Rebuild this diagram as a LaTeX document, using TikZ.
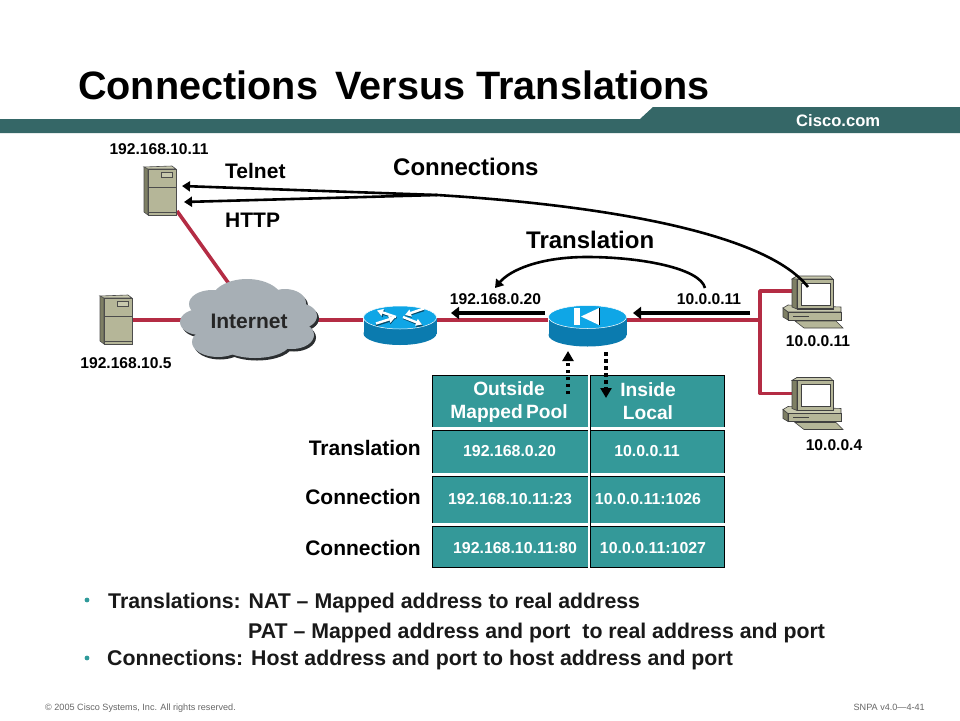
\documentclass[tikz,border=0pt]{standalone}
\usepackage{fontspec}
\setmainfont{Liberation Sans}
\usetikzlibrary{arrows.meta}
\definecolor{bannerteal}{HTML}{356767}
\definecolor{cellteal}{HTML}{349999}
\definecolor{linkred}{HTML}{B42C44}
\definecolor{boxface}{HTML}{B5B698}
\definecolor{boxside}{HTML}{7E7F64}
\definecolor{boxtop}{HTML}{C8C9AE}
\definecolor{cloudgray}{HTML}{A7AFB5}
\definecolor{cloudshade}{HTML}{2B2E30}
\definecolor{rtop}{HTML}{0FA6E6}
\definecolor{rside}{HTML}{0B7BAF}
\definecolor{bulletteal}{HTML}{2F9A9A}
\tikzset{
  x=1pt,y=-1pt,
  anchorbox/.style={inner sep=0pt,outer sep=0pt,minimum width=#1},
  redlink/.style={draw=linkred,line width=3.6pt,line join=round},
  blackarrow/.style={draw=black,line width=3.4pt,-{Triangle[length=8pt,width=12pt]}},
  thinarrow/.style={draw=black,line width=2.6pt,-{Triangle[length=8pt,width=10pt]}},
  dotarrow/.style={draw=black,line width=3.8pt,dash pattern=on 3.5pt off 3.5pt,-{Triangle[length=10pt,width=11pt]}},
  routerarrow/.style={line width=2.4pt,-{Triangle[length=6pt,width=7pt]}},
  lab/.style={inner sep=0pt,font=\bfseries\fontsize{15.6}{18}\selectfont,text=black},
  biglab/.style={inner sep=0pt,font=\bfseries\fontsize{24}{28}\selectfont,text=black,anchor=base west},
  midlab/.style={inner sep=0pt,font=\bfseries\fontsize{21}{25}\selectfont,text=black,anchor=base west},
  rowlab/.style={inner sep=0pt,font=\bfseries\fontsize{21}{25}\selectfont,text=black,anchor=base east},
  cell/.style={inner sep=0pt,font=\bfseries\fontsize{15.9}{18}\selectfont,text=white},
  head/.style={inner sep=0pt,align=center,font=\bfseries\fontsize{19.2}{23}\selectfont,text=white},
  body/.style={inner sep=0pt,anchor=base west,font=\bfseries\fontsize{21.3}{24}\selectfont,text=black!90},
  foot/.style={inner sep=0pt,font=\fontsize{9.1}{11}\selectfont,text=black!60},
}
\newcommand{\serverart}[2]{%
 \begin{scope}[shift={(#1,#2)},draw=black!70,line width=.6pt]
  \filldraw[fill=boxside] (0,1)--(4,3)--(4,49)--(0,46)--cycle;
  \filldraw[fill=boxtop] (0,1)--(28,0)--(32,3)--(4,3)--cycle;
  \filldraw[fill=boxface] (4,3) rectangle (32,49);
  \draw (4,21)--(32,21);
  \draw (4,46)--(32,46);
  \filldraw[fill=boxtop] (17,6) rectangle (28,11);
 \end{scope}}
\newcommand{\pcart}[2]{%
 \begin{scope}[shift={(#1,#2)},draw=black!75,line width=.6pt]
  \filldraw[fill=boxside] (-9,32)--(-4,36)--(-4,44)--(-9,41)--cycle;
  \filldraw[fill=boxtop] (-9,32)--(-4,29)--(49,31)--(49,36)--(-4,36)--cycle;
  \filldraw[fill=boxface] (-4,36) rectangle (49,44);
  \draw[line width=1pt] (1,40)--(17,40);
  \filldraw[fill=boxface] (3,45)--(44,45)--(51,52)--(12,52)--cycle;
  \filldraw[fill=boxside] (0,3)--(5,0)--(5,33)--(0,31)--cycle;
  \filldraw[fill=boxtop] (0,3)--(5,0)--(38,0)--(41,3)--cycle;
  \filldraw[fill=boxface] (5,3) rectangle (41,33);
  \filldraw[fill=white] (9,7) rectangle (38,29);
  \draw[line width=1.4pt] (5,33)--(41,33);
 \end{scope}}
\newcommand{\routerart}[4]{% x-centre, top-ellipse centre y, rx, body height
 \fill[rside] (#1,#2+#4) ellipse[x radius=#3,y radius=11.5];
 \fill[rside] (#1-#3,#2) rectangle (#1+#3,#2+#4);
 \fill[rtop,draw=white,line width=.5pt] (#1,#2) ellipse[x radius=#3,y radius=11.5];
}
\newcommand{\cloudlobes}{248/320/58/30,247/301/36/22,212/304/23/14,285/303/21/14,298/316/19/13,200/322/20/13,218/342/26/15,255/342/36/16,292/335/22/14}
\begin{document}
\begin{tikzpicture}
\useasboundingbox (0,0) rectangle (960,720);
\fill[white] (0,0) rectangle (960,720);

% banner
\fill[bannerteal] (0,119)--(640,119)--(653,107)--(960,107)--(960,133)--(0,133)--cycle;
\node[inner sep=0pt,anchor=base west,font=\bfseries\fontsize{16.6}{20}\selectfont,text=white] (cisco) at (796,126) {Cisco.com};
\node[inner sep=0pt,anchor=base west,font=\bfseries\fontsize{39.6}{44}\selectfont] (title) at (78,99) {Connections\, Versus Translations};

% anchor nodes
\node[anchorbox=32pt,minimum height=49pt] (srvA) at (161,191) {};
\node[anchorbox=32pt,minimum height=49pt] (srvB) at (116,320) {};
\node[anchorbox=136pt,minimum height=80pt] (cloud) at (248.5,320) {};
\node[anchorbox=74pt,minimum height=30pt] (router) at (400,320) {};
\node[anchorbox=79pt,minimum height=30pt] (pix) at (587.5,320) {};
\node[anchorbox=10pt,minimum height=30pt] (pcA) at (797,291) {};
\node[anchorbox=10pt,minimum height=30pt] (pcB) at (797,393.5) {};
\coordinate (jn) at (760,320);
\coordinate (jt) at (760,291);
\coordinate (jb) at (760,393.5);
\coordinate (cloudtop) at (232,288);
\coordinate (srvfoot) at (177,211);

% red links
\draw[redlink] (srvB.east) -- (cloud.west);
\draw[redlink] (srvfoot) -- (cloudtop);
\draw[redlink] (cloud.east) -- (router.west);
\draw[redlink] (router.east) -- (pix.west);
\draw[redlink] (pix.east) -- (jn);
\draw[redlink] (pcA.west) -- (jt) -- (jb) -- (pcB.west);

% cloud
\foreach \cx/\cy/\rx/\ry in \cloudlobes {\fill[cloudshade] (\cx+2,\cy+2.5) ellipse[x radius=\rx,y radius=\ry];}
\foreach \cx/\cy/\rx/\ry in \cloudlobes {\fill[cloudgray] (\cx,\cy) ellipse[x radius=\rx,y radius=\ry];}
\node[inner sep=0pt,font=\bfseries\fontsize{21}{24}\selectfont,text=black!85] (inet) at (249,321) {Internet};

% devices
\serverart{144}{166}
\serverart{100}{295}
\routerart{400}{317.5}{36.5}{16}
\routerart{587.5}{317}{39}{18}
\begin{scope}[rside!60!black]
 \draw[routerarrow] (396.5,318) -- (378,312);
 \draw[routerarrow] (403.5,318) -- (423,326);
 \draw[routerarrow] (424,310) -- (405,316);
 \draw[routerarrow] (376,325) -- (395,319);
\end{scope}
\begin{scope}[white]
 \draw[routerarrow] (396,317) -- (377,310.5);
 \draw[routerarrow] (403,317) -- (422,324.5);
 \draw[routerarrow] (424,308.5) -- (405,315);
 \draw[routerarrow] (376,323.5) -- (395,317.5);
\end{scope}
\fill[white] (574,308) rectangle (580,325);
\fill[white] (581,316.5)--(599,308)--(599,325)--cycle;
\draw[black,line width=.8pt] (599.5,308)--(599.5,325);
\pcart{792}{276}
\pcart{792}{377.5}

% Connections curves
\coordinate (pcin) at (808,287);
\coordinate (meet) at (437,195);
\coordinate (tipT) at (182,186);
\coordinate (tipH) at (184,202);
\draw[line width=2.6pt,black] (pcin) .. controls (765,232) and (600,205) .. (meet);
\draw[thinarrow] (meet) -- (tipT);
\draw[thinarrow] (meet) -- (tipH);

% translation arc
\coordinate (arcA) at (705,288);
\coordinate (arcB) at (495,288);
\draw[thinarrow] (arcA) .. controls (700,268) and (640,257) .. (587,257) .. controls (540,257) and (510,270) .. (arcB);

% flow arrows
\coordinate (fa1) at (545,313);
\coordinate (fa2) at (451,313);
\coordinate (fb1) at (750,313);
\coordinate (fb2) at (633,313);
\draw[blackarrow] (fa1) -- (fa2);
\draw[blackarrow] (fb1) -- (fb2);

% table
\fill[black] (432,375) rectangle (725,568);
\fill[cellteal] (433,376) rectangle (724,567);
\fill[white] (432,427) rectangle (725,430);
\fill[black] (433,430) rectangle (724,431);
\fill[white] (432,473) rectangle (725,476);
\fill[black] (433,476) rectangle (724,477);
\fill[white] (432,523) rectangle (725,525.5);
\fill[black] (433,525.5) rectangle (724,526.5);
\fill[white] (587.5,375) rectangle (589.5,568);
\fill[black] (589.5,375) rectangle (590.5,568);

\coordinate (du1) at (568,394);
\coordinate (du2) at (568,351);
\coordinate (dd1) at (606,352);
\coordinate (dd2) at (606,398);
\draw[dotarrow] (du1) -- (du2);
\draw[dotarrow] (dd1) -- (dd2);

\node[head] (h1) at (509,402.5) {Outside\\Mapped\,Pool};
\node[head] (h2) at (648,401) {Inside\\Local};
\node[cell] (c11) at (509.5,451.5) {192.168.0.20};
\node[cell] (c12) at (647,451.5) {10.0.0.11};
\node[cell] (c21) at (510,499.5) {192.168.10.11:23};
\node[cell] (c22) at (648,499.5) {10.0.0.11:1026};
\node[cell] (c31) at (515,548) {192.168.10.11:80};
\node[cell] (c32) at (653,548) {10.0.0.11:1027};

% labels
\node[lab] (l1) at (159,149) {192.168.10.11};
\node[lab] (l2) at (126,363) {192.168.10.5};
\node[lab] (l3) at (495.5,299) {192.168.0.20};
\node[lab] (l4) at (709,299) {10.0.0.11};
\node[lab] (l5) at (818,341) {10.0.0.11};
\node[lab] (l6) at (834,445) {10.0.0.4};
\node[midlab] (telnet) at (225,178) {Telnet};
\node[midlab] (http) at (225,227) {HTTP};
\node[biglab] (conn) at (393,175) {Connections};
\node[biglab] (trans) at (526,248) {Translation};
\node[rowlab] (r1) at (421,455) {Translation};
\node[rowlab] (r2) at (421,504) {Connection};
\node[rowlab] (r3) at (421,555) {Connection};

% bullets
\fill[bulletteal] (87,600) circle (2.4pt);
\fill[bulletteal] (87,658) circle (2.4pt);
\node[body] (b1) at (108,608) {Translations: NAT – Mapped address to real address};
\node[body] (b2) at (248,638) {PAT – Mapped address and port\hspace{6pt} to real address and port};
\node[body] (b3) at (107,665) {Connections: Host address and port to host address and port};

% footer
\node[foot,anchor=base west] (f1) at (45,710) {© 2005 Cisco Systems, Inc. All rights reserved.};
\node[foot,anchor=base east] (f2) at (925,710) {SNPA v4.0—4-41};
\end{tikzpicture}
\end{document}
